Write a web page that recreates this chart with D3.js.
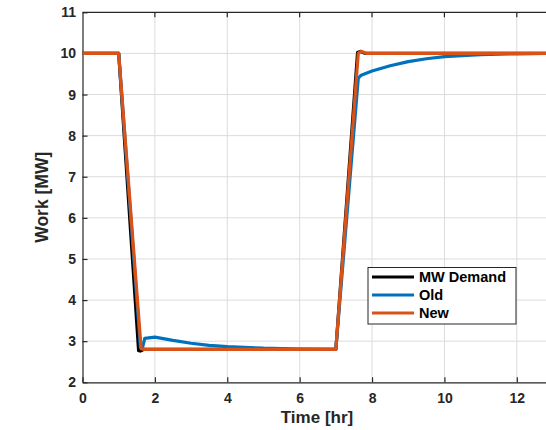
<!DOCTYPE html>
<html>
<head>
<meta charset="utf-8">
<script src="https://cdn.jsdelivr.net/npm/d3@7"></script>
<style>
  body { margin: 0; background: #fff; }
  svg { display: block; font-family: "Liberation Sans", Arial, sans-serif; }
</style>
</head>
<body>
<script>
// MW demand profile
var demandT = [0, 1.0, 1.55, 1.6, 1.7, 7.0, 7.6, 7.68, 7.8, 13];
var demandW = [10, 10, 2.77, 2.76, 2.8, 2.8, 10.02, 10.05, 10.0, 10];

// old controller response
var oldT = [0, 1.0, 1.6, 1.66, 1.72, 2.0, 2.5, 3.0, 3.5, 4.0, 5.0, 6.0, 7.0, 7.62, 7.7, 8.0, 8.5, 9.0, 9.5, 10.0, 11.0, 12.0, 13];
var oldW = [10, 10, 2.85, 2.85, 3.07, 3.1, 3.02, 2.95, 2.9, 2.87, 2.83, 2.81, 2.8, 9.4, 9.47, 9.57, 9.7, 9.8, 9.87, 9.92, 9.97, 9.99, 10];

// new controller response
var newT = [0, 1.0, 1.62, 1.7, 1.8, 7.0, 7.62, 7.7, 7.85, 13];
var newW = [10, 10, 2.82, 2.8, 2.8, 2.8, 10.0, 10.05, 10.0, 10];

var xTicks = [0, 2, 4, 6, 8, 10, 12];
var yTicks = [2, 3, 4, 5, 6, 7, 8, 9, 10, 11];

var w = 546, h = 430;
var svg = d3.select("body").append("svg").attr("width", w).attr("height", h);

var x = d3.scaleLinear().domain([0, 13]).range([82.5, 553]);
var y = d3.scaleLinear().domain([2, 11]).range([382.3, 12.3]);

var axisCol = "#262626";

// grid
svg.append("g").selectAll("line").data(xTicks.slice(1)).enter().append("line")
  .attr("x1", d => x(d)).attr("x2", d => x(d))
  .attr("y1", y(2)).attr("y2", y(11))
  .attr("stroke", "#dcdcdc").attr("stroke-width", 1);
svg.append("g").selectAll("line").data(yTicks.slice(1, -1)).enter().append("line")
  .attr("x1", x(0)).attr("x2", x(13))
  .attr("y1", d => y(d)).attr("y2", d => y(d))
  .attr("stroke", "#dcdcdc").attr("stroke-width", 1);

// axes
var xAxis = d3.axisBottom(x).tickValues(xTicks).tickSizeInner(-5).tickSizeOuter(0).tickPadding(11);
var yAxis = d3.axisLeft(y).tickValues(yTicks).tickSizeInner(-5).tickSizeOuter(0).tickPadding(6.5);

var gx = svg.append("g").attr("transform", "translate(0," + y(2) + ")").call(xAxis);
var gy = svg.append("g").attr("transform", "translate(" + x(0) + ",0)").call(yAxis);
[gx, gy].forEach(function (g) {
  g.select(".domain").attr("stroke", axisCol).attr("stroke-width", 1.2);
  g.selectAll(".tick line").attr("stroke", axisCol).attr("stroke-width", 1.2);
  g.selectAll(".tick text").attr("fill", axisCol)
    .style("font-size", "14px").style("font-weight", "bold")
    .style("font-family", "'Liberation Sans', Arial, sans-serif");
});
// top border
svg.append("line").attr("x1", x(0)).attr("x2", x(13)).attr("y1", y(11)).attr("y2", y(11))
  .attr("stroke", axisCol).attr("stroke-width", 1.2);
// ticks on top border
svg.append("g").selectAll("line").data(xTicks.slice(1)).enter().append("line")
  .attr("x1", d => x(d)).attr("x2", d => x(d))
  .attr("y1", y(11)).attr("y2", y(11) + 5)
  .attr("stroke", axisCol).attr("stroke-width", 1.2);

// lines
var line = d3.line().x(d => x(d[0])).y(d => y(d[1]));
function pairs(t, v) { return t.map((d, i) => [d, v[i]]); }

var series = [
  { name: "MW Demand", t: demandT, v: demandW, color: "#000000" },
  { name: "Old", t: oldT, v: oldW, color: "#0072BD" },
  { name: "New", t: newT, v: newW, color: "#D95319" }
];

svg.append("g").selectAll("path").data(series).enter().append("path")
  .attr("d", d => line(pairs(d.t, d.v)))
  .attr("fill", "none")
  .attr("stroke", d => d.color)
  .attr("stroke-width", 3.2)
  .attr("stroke-linejoin", "round");

// axis labels
svg.append("text").attr("x", 317).attr("y", 423)
  .attr("text-anchor", "middle").attr("fill", axisCol)
  .style("font-size", "17px").style("font-weight", "bold")
  .text("Time [hr]");
svg.append("text")
  .attr("transform", "translate(48," + ((y(2) + y(11)) / 2) + ") rotate(-90)")
  .attr("text-anchor", "middle").attr("fill", axisCol)
  .style("font-size", "17.5px").style("font-weight", "bold")
  .text("Work [MW]");

// legend
var lg = svg.append("g").attr("transform", "translate(368,267.5)");
lg.append("rect").attr("width", 148).attr("height", 56.5)
  .attr("fill", "#fff").attr("stroke", axisCol).attr("stroke-width", 1);
var item = lg.selectAll(".item").data(series).enter().append("g")
  .attr("transform", (d, i) => "translate(0," + (9.5 + i * 18) + ")");
item.append("line").attr("x1", 4).attr("x2", 46)
  .attr("stroke", d => d.color).attr("stroke-width", 3.2);
item.append("text").attr("x", 51).attr("y", 5)
  .attr("fill", "#000").style("font-size", "14.5px").style("font-weight", "bold")
  .text(d => d.name);
</script>
</body>
</html>
